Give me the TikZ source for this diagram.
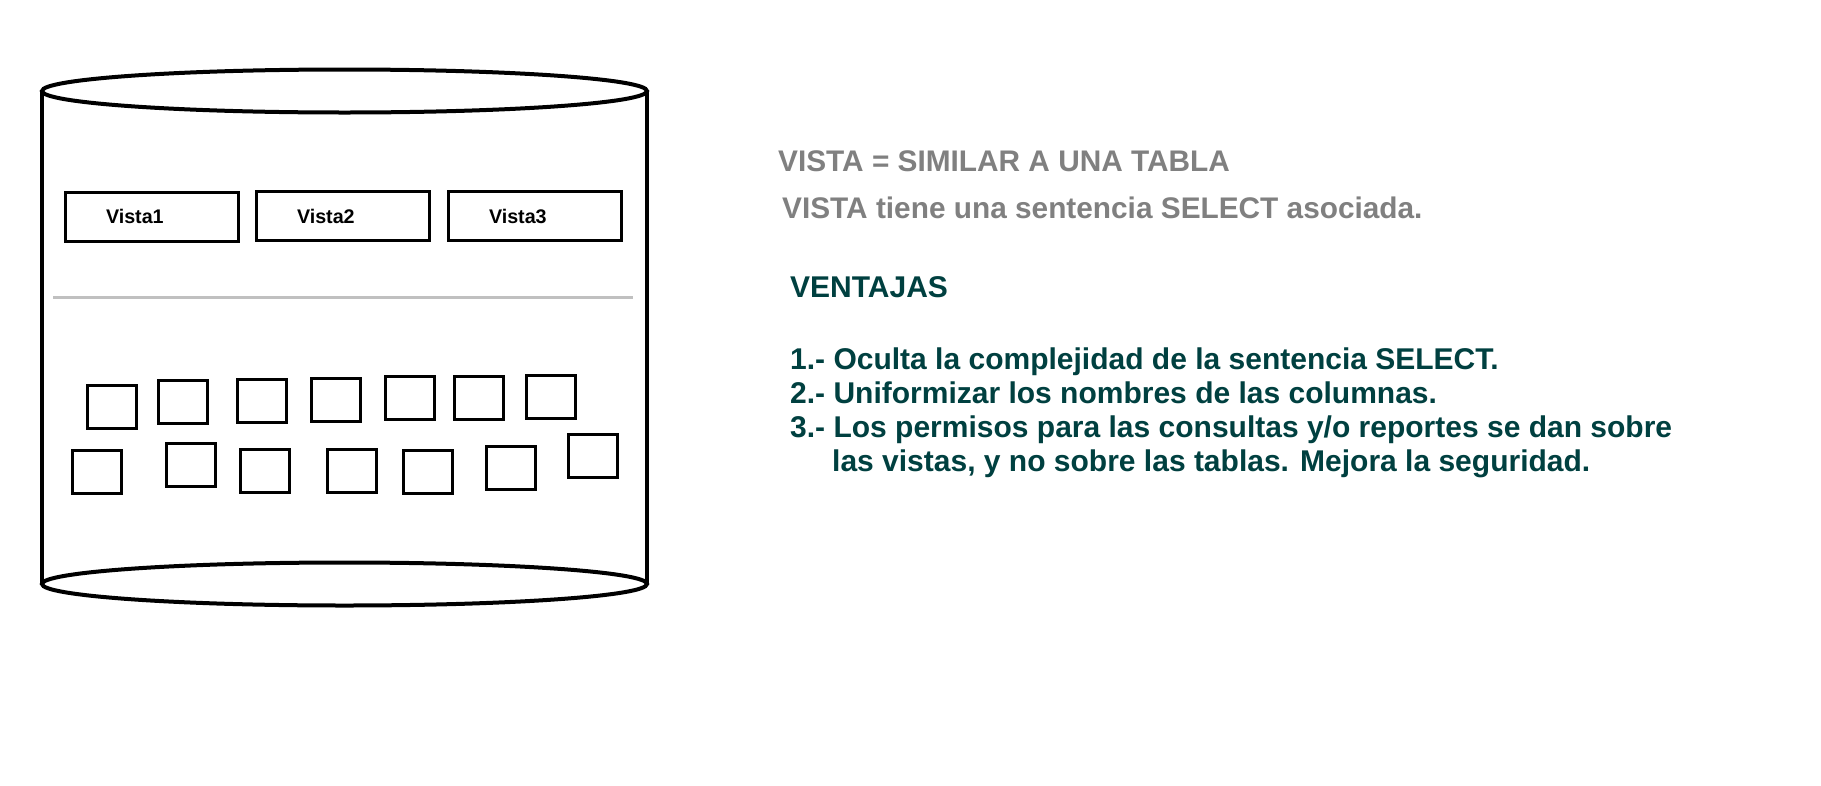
\documentclass[tikz,border=0pt]{standalone}
\usepackage{fontspec}
\setmainfont{Liberation Sans}
\usepackage{xcolor}
\usepackage{tikz}
\usetikzlibrary{positioning}
\definecolor{TextGray}{HTML}{808080}
\definecolor{VentTeal}{HTML}{004040}
\definecolor{LineGray}{HTML}{C0C0C0}

\begin{document}
\begin{tikzpicture}[
    x=1pt, y=-1pt,
    vistabox/.style={
      draw, line width=3pt, minimum width=173pt, minimum height=49pt,
      inner xsep=40.5pt, text width=92pt, align=left,
      font=\fontsize{19.7}{22}\selectfont\bfseries
    },
    tabla/.style={draw, line width=3pt, minimum width=49pt, minimum height=43pt, inner sep=0pt},
    grytext/.style={anchor=base west, inner sep=0pt, text=TextGray,
      font=\fontsize{29.8}{34}\selectfont\bfseries},
    tealtext/.style={anchor=base west, inner sep=0pt, text=VentTeal,
      font=\fontsize{30}{34}\selectfont\bfseries}
  ]
    \useasboundingbox (0,0) rectangle (1821,785);
    \fill[white] (0,0) rectangle (1821,785);

    \draw[line width=4pt] (42,91) -- (42,584);
    \draw[line width=4pt] (647,91) -- (647,584);
    \draw[line width=4pt] (344.5,91) ellipse [x radius=302.5, y radius=21.5];
    \draw[line width=4pt] (344.5,584) ellipse [x radius=302.5, y radius=21.5];

    \node[vistabox] (v1) at (152,216.5) {Vista1};
    \node[vistabox] (v2) at (343,216) {Vista2};
    \node[vistabox] (v3) at (535,216) {Vista3};

    \draw[LineGray, line width=3pt] (53,297) -- (633,297);

    \foreach \px/\py [count=\i] in {112/406.5, 182.5/402, 262/401, 336/399.5, 410/397.5, 479/397.5, 551/397,
        97/472, 190.5/465, 265/471, 352/471, 428/472, 511/468, 593/456}
      \node[tabla] (t\i) at (\px,\py) {};

    \node[grytext] (def) at (778,171) {VISTA = SIMILAR A UNA TABLA};
    \node[grytext] (sel) at (782,218) {VISTA tiene una sentencia SELECT asociada.};

    \node[tealtext] (vent) at (790,297) {VENTAJAS};
    \node[tealtext] (p1) at (790,369) {1.- Oculta la complejidad de la sentencia SELECT.};
    \node[tealtext] (p2) at (790,403) {2.- Uniformizar los nombres de las columnas.};
    \node[tealtext] (p3) at (790,437) {3.- Los permisos para las consultas y/o reportes se dan sobre};
    \node[tealtext] (p3b) at (832,471) {las vistas, y no sobre las tablas. Mejora la seguridad.};
  \end{tikzpicture}
\end{document}
